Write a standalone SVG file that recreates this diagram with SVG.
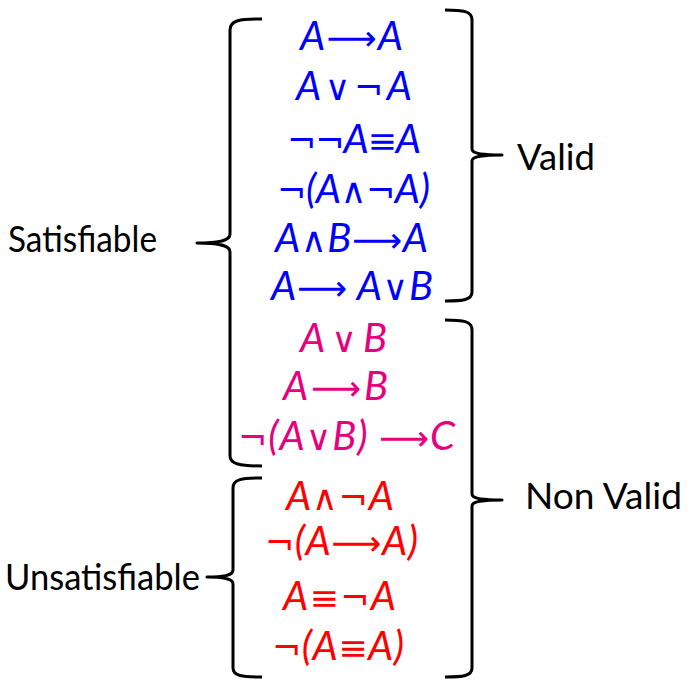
<svg xmlns="http://www.w3.org/2000/svg" width="693" height="686" viewBox="0 0 693 686">
<style>
.lbl{font-family:"Lato","Open Sans",sans-serif;font-size:36px;fill:#000}
.f{font-family:"Lato","Open Sans","DejaVu Sans",sans-serif;font-style:italic;font-size:40px}
.s{font-family:"DejaVu Sans",sans-serif;font-style:normal;font-size:35px}
.blue{fill:#0000ff}
.mag{fill:#e6007e}
.red{fill:#ff0000}
.br{fill:none;stroke:#000;stroke-width:3;stroke-linejoin:round}
</style>
<rect width="693" height="686" fill="#fff"/>
<g id="braces">
<path class="br" d="M262,19 C240,19 230,20 230,30 L230,234 C230,240 222,243 197,243 C222,243 230,246 230,252 L230,456 C230,464 240,466 262,466"/>
<path class="br" d="M262,478 C242,478 233,479 233,488 L233,570 C233,575 226,577 207,577 C226,577 233,579 233,584 L233,668 C233,676 242,677 262,677"/>
<path class="br" d="M445,10 C463,10 472,11 472,20 L472,149 C472,153 480,155 502,155 C480,155 472,157 472,161 L472,292 C472,300 463,301 445,301"/>
<path class="br" d="M445,320 C463,320 472,321 472,330 L472,494 C472,498 480,500 502,500 C480,500 472,502 472,506 L472,668 C472,676 463,677 445,677"/>
</g>
<g id="label-satisfiable"><text class="lbl" x="8" y="252" textLength="149" lengthAdjust="spacingAndGlyphs">Satisfiable</text></g>
<g id="label-unsatisfiable"><text class="lbl" x="5" y="590" textLength="195" lengthAdjust="spacingAndGlyphs">Unsatisfiable</text></g>
<g id="label-valid"><text class="lbl" x="517" y="170" textLength="78" lengthAdjust="spacingAndGlyphs">Valid</text></g>
<g id="label-nonvalid"><text class="lbl" x="525" y="509" textLength="157" lengthAdjust="spacingAndGlyphs">Non Valid</text></g>
<g id="valid-formulas" class="blue">
<text class="f" x="300" y="50" textLength="103">A<tspan class="s">⟶</tspan>A</text>
<text class="f" x="296" y="100" textLength="116">A<tspan class="s">∨</tspan><tspan class="s">¬</tspan>A</text>
<text class="f" x="287" y="153" textLength="134"><tspan class="s">¬¬</tspan>A<tspan class="s">≡</tspan>A</text>
<text class="f" x="277" y="203" textLength="153"><tspan class="s">¬</tspan>(A<tspan class="s">∧¬</tspan>A)</text>
<text class="f" x="275" y="252" textLength="153">A<tspan class="s">∧</tspan>B<tspan class="s">⟶</tspan>A</text>
<text class="f" x="271" y="300" textLength="162">A<tspan class="s">⟶</tspan> A<tspan class="s">∨</tspan>B</text>
</g>
<g id="satisfiable-formulas" class="mag">
<text class="f" x="300" y="352" textLength="87">A<tspan class="s">∨</tspan>B</text>
<text class="f" x="283" y="400" textLength="105">A<tspan class="s">⟶</tspan>B</text>
<text class="f" x="238" y="450" textLength="217"><tspan class="s">¬</tspan>(A<tspan class="s">∨</tspan>B) <tspan class="s">⟶</tspan>C</text>
</g>
<g id="unsatisfiable-formulas" class="red">
<text class="f" x="286" y="510" textLength="108">A<tspan class="s">∧¬</tspan>A</text>
<text class="f" x="265" y="555" textLength="153"><tspan class="s">¬</tspan>(A<tspan class="s">⟶</tspan>A)</text>
<text class="f" x="283" y="610" textLength="113">A<tspan class="s">≡</tspan><tspan class="s">¬</tspan>A</text>
<text class="f" x="272" y="660" textLength="132"><tspan class="s">¬</tspan>(A<tspan class="s">≡</tspan>A)</text>
</g>
</svg>
